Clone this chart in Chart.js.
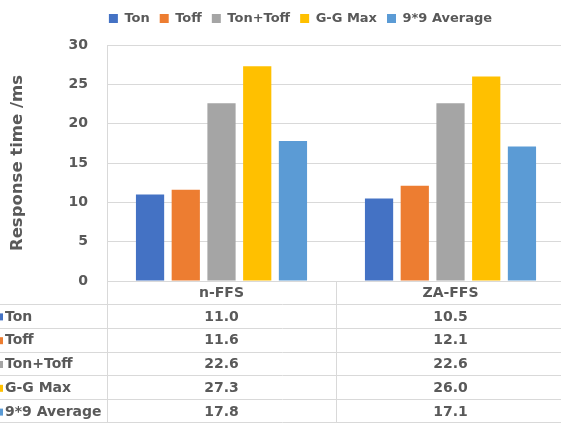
<!DOCTYPE html>
<html>
<head>
<meta charset="utf-8">
<script src="https://cdn.jsdelivr.net/npm/chart.js@4.4.1/dist/chart.umd.min.js"></script>
<style>
  html, body { margin: 0; padding: 0; overflow: hidden; background: #fff; }
  #wrap { width: 565px; height: 424px; }
</style>
</head>
<body>
<div id="wrap"><canvas id="rtChart"></canvas></div>
<script>
// data
const categories = ['n-FFS', 'ZA-FFS'];
const seriesNames = ['Ton', 'Toff', 'Ton+Toff', 'G-G Max', '9*9 Average'];
const ton = [11.0, 10.5];
const toff = [11.6, 12.1];
const tonToff = [22.6, 22.6];
const ggMax = [27.3, 26.0];
const avg99 = [17.8, 17.1];
const yTicks = [0, 5, 10, 15, 20, 25, 30];

const colors = ['#4472C4', '#ED7D31', '#A5A5A5', '#FFC000', '#5B9BD5'];
const allValues = [ton, toff, tonToff, ggMax, avg99];
const textColor = '#595959';
const lineColor = '#d9d9d9';
const fontFam = '"DejaVu Sans", Verdana, sans-serif';

// data table under the plot, aligned with the x scale
const dataTable = {
    id: 'dataTable',
    afterDraw(chart) {
        const ctx = chart.ctx;
        const area = chart.chartArea;
        const xs = chart.scales.x;
        const W = chart.width;
        const top = area.bottom;
        const headH = 23;
        const rowH = 23.8;
        const n = seriesNames.length;
        const bottom = top + headH + rowH * n;

        ctx.save();
        ctx.strokeStyle = lineColor;
        ctx.lineWidth = 1;
        ctx.beginPath();
        // horizontal lines
        for (let i = 1; i <= n; i++) {
            const y = Math.round(top + headH + rowH * (i - 1)) + 0.5;
            ctx.moveTo(0, y); ctx.lineTo(W, y);
        }
        ctx.moveTo(0, Math.round(bottom) - 0.5); ctx.lineTo(W, Math.round(bottom) - 0.5);
        // vertical lines
        const half = (xs.getPixelForValue(1) - xs.getPixelForValue(0)) / 2;
        const vx = [area.left, xs.getPixelForValue(0) + half, area.right - 0.5];
        vx.forEach(x => {
            const px = Math.round(x) + 0.5;
            ctx.moveTo(px, top); ctx.lineTo(px, bottom);
        });
        ctx.stroke();

        ctx.font = 'bold 14px ' + fontFam;
        ctx.fillStyle = textColor;
        ctx.textBaseline = 'middle';
        ctx.textAlign = 'center';
        categories.forEach((c, i) => {
            ctx.fillText(c, xs.getPixelForValue(i), top + headH / 2 + 1);
        });
        for (let r = 0; r < n; r++) {
            const cy = top + headH + rowH * r + rowH / 2 + 1;
            ctx.fillStyle = colors[r];
            ctx.fillRect(-4, cy - 3.5, 7, 7);
            ctx.fillStyle = textColor;
            ctx.textAlign = 'left';
            ctx.fillText(seriesNames[r], 5, cy);
            ctx.textAlign = 'center';
            allValues[r].forEach((v, i) => {
                ctx.fillText(v.toFixed(1), xs.getPixelForValue(i), cy);
            });
        }
        ctx.restore();
    }
};

// move the legend up and a little to the right, like the original
const legendShift = {
    id: 'legendShift',
    afterLayout(chart) {
        const lg = chart.legend;
        lg.left += 18; lg.right += 18;
        lg.top -= 10; lg.bottom -= 10;
    }
};

new Chart(document.getElementById('rtChart'), {
    type: 'bar',
    data: {
        labels: categories,
        datasets: seriesNames.map((name, i) => ({
            label: name,
            data: allValues[i],
            backgroundColor: colors[i],
            categoryPercentage: 0.78,
            barPercentage: 0.79
        }))
    },
    options: {
        responsive: true,
        maintainAspectRatio: false,
        animation: false,
        layout: { padding: { top: 12, bottom: 143, left: 0, right: 0 } },
        plugins: {
            legend: {
                position: 'top',
                labels: {
                    boxWidth: 9,
                    boxHeight: 9,
                    padding: 10,
                    color: textColor,
                    font: { family: fontFam, size: 13, weight: 'bold' }
                }
            },
            tooltip: { enabled: false }
        },
        scales: {
            x: {
                ticks: { display: false },
                grid: { display: false, drawTicks: false },
                border: { display: false }
            },
            y: {
                min: 0,
                max: 30,
                afterBuildTicks(axis) { axis.ticks = yTicks.map(v => ({ value: v })); },
                afterFit(axis) { axis.width = 107; },
                ticks: {
                    padding: 19,
                    color: textColor,
                    font: { family: fontFam, size: 14, weight: 'bold' }
                },
                grid: { color: lineColor, drawTicks: false },
                border: { display: true, color: lineColor },
                title: {
                    display: true,
                    text: 'Response time /ms',
                    color: textColor,
                    padding: { top: 8, bottom: 0 },
                    font: { family: fontFam, size: 16.5, weight: 'bold' }
                }
            }
        }
    },
    plugins: [dataTable, legendShift]
});
</script>
</body>
</html>
